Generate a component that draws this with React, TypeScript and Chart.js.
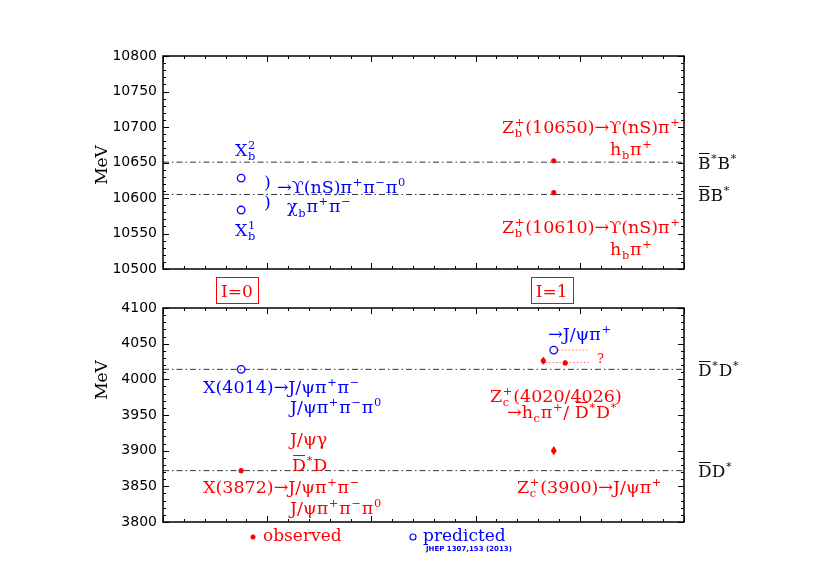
import React, { useEffect, useRef } from 'react';
import { Chart, registerables } from 'chart.js';
Chart.register(...registerables);

const RED = 'rgb(255,0,0)';
const BLUE = 'rgb(0,0,255)';
const SERIF = '"DejaVu Serif", serif';
const SANS = '"DejaVu Sans", sans-serif';
const LABEL_SIZE = 17.5;

const X_MIN = 0;
const X_MAX = 5;
const X_MAJOR = 1;
const X_MINOR = 0.2;

// ---- bottomonium panel (top) ----
const B_Y_MIN = 10500;
const B_Y_MAX = 10800;
const B_Y_STEP = 50;
const B_Y_MINOR = 10;
const bObsX = [3.75, 3.75];
const bObsY = [10652.5, 10607.5];
const bObsErr = [0, 0];
const bPredX = [0.75, 0.75];
const bPredY = [10628, 10583];
const bThresh = [10650.5, 10605];
const bThreshLabels = ['~{B}^{*}B^{*}', '~{B}B^{*}'];
const bLabels = [
  { t: 'X_{b}^{2}', x: 0.69, y: 10659, c: BLUE },
  { t: 'X_{b}^{1}', x: 0.69, y: 10546.5, c: BLUE },
  { t: ')', x: 0.97, y: 10614, c: BLUE },
  { t: ')', x: 0.97, y: 10586, c: BLUE },
  { t: '→ϒ(nS)π^{+}π^{−}π^{0}', x: 1.094, y: 10607, c: BLUE },
  { t: 'χ_{b}π^{+}π^{−}', x: 1.19, y: 10580, c: BLUE },
  { t: 'Z_{b}^{+}(10650)→ϒ(nS)π^{+}', x: 3.253, y: 10691.5, c: RED },
  { t: 'h_{b}π^{+}', x: 4.29, y: 10660.6, c: RED },
  { t: 'Z_{b}^{+}(10610)→ϒ(nS)π^{+}', x: 3.253, y: 10550.7, c: RED },
  { t: 'h_{b}π^{+}', x: 4.29, y: 10519.7, c: RED },
];
const isoText = ['I=0', 'I=1'];
const isoX = [0.71, 3.73];

// ---- charmonium panel (bottom) ----
const C_Y_MIN = 3800;
const C_Y_MAX = 4100;
const C_Y_STEP = 50;
const C_Y_MINOR = 10;
const cObsX = [0.75, 3.65, 3.86, 3.75];
const cObsY = [3872, 4026, 4023, 3900];
const cObsErr = [0, 5, 0, 5.5];
const cPredX = [0.75, 3.75];
const cPredY = [4014, 4041];
const cThresh = [4014, 3872];
const cThreshLabels = ['~{D}^{*}D^{*}', '~{D}D^{*}'];
const cLinkY = [4041, 4023.5];
const cLinkX0 = [3.79, 3.67];
const cLinkX1 = [4.09, 4.09];
const cLabels = [
  { t: 'X(4014)→J/ψπ^{+}π^{−}', x: 0.384, y: 3980.8, c: BLUE },
  { t: 'J/ψπ^{+}π^{−}π^{0}', x: 1.219, y: 3952.8, c: BLUE },
  { t: 'J/ψγ', x: 1.219, y: 3908, c: RED },
  { t: '~{D}^{*}D', x: 1.238, y: 3871.5, c: RED },
  { t: 'X(3872)→J/ψπ^{+}π^{−}', x: 0.384, y: 3840.6, c: RED },
  { t: 'J/ψπ^{+}π^{−}π^{0}', x: 1.219, y: 3811.2, c: RED },
  { t: '→J/ψπ^{+}', x: 3.695, y: 4055.1, c: BLUE },
  { t: 'Z_{c}^{+}(4020/4026)', x: 3.138, y: 3968.2, c: RED },
  { t: '→h_{c}π^{+}/ ~{D}^{*}D^{*}', x: 3.301, y: 3945.8, c: RED },
  { t: 'Z_{c}^{+}(3900)→J/ψπ^{+}', x: 3.397, y: 3840.6, c: RED },
];
const cQuestion = { t: '?', x: 4.165, y: 4022.9 };

// ---- rich text ----
type Seg = { k: string; t?: string; sub?: string; sup?: string };
function parseRich(s: string): Seg[] {
  const segs: Seg[] = [];
  let buf = '';
  let i = 0;
  const flush = () => { if (buf) { segs.push({ k: 'n', t: buf }); buf = ''; } };
  while (i < s.length) {
    const c = s[i];
    if ((c === '_' || c === '^' || c === '~') && s[i + 1] === '{') {
      const end = s.indexOf('}', i + 2);
      flush();
      segs.push({ k: c === '_' ? 'sub' : c === '^' ? 'sup' : 'over', t: s.slice(i + 2, end) });
      i = end + 1;
    } else { buf += c; i++; }
  }
  flush();
  const out: Seg[] = [];
  for (let j = 0; j < segs.length; j++) {
    const a = segs[j];
    const b = segs[j + 1];
    if (b && ((a.k === 'sub' && b.k === 'sup') || (a.k === 'sup' && b.k === 'sub'))) {
      out.push({ k: 'stack', sub: a.k === 'sub' ? a.t : b.t, sup: a.k === 'sup' ? a.t : b.t });
      j++;
    } else out.push(a);
  }
  return out;
}

function drawRich(ctx: CanvasRenderingContext2D, str: string, x: number, y: number, size: number, color: string, align = 'left', family = SERIF) {
  const items = parseRich(str);
  const fN = `${size}px ${family}`;
  const fS = `${(size * 0.65).toFixed(1)}px ${family}`;
  const widthOf = (it: Seg) => {
    if (it.k === 'n' || it.k === 'over') { ctx.font = fN; return ctx.measureText(it.t!).width; }
    ctx.font = fS;
    if (it.k === 'stack') return Math.max(ctx.measureText(it.sub!).width, ctx.measureText(it.sup!).width) + 1.5;
    return ctx.measureText(it.t!).width + 1.5;
  };
  const total = items.reduce((a, it) => a + widthOf(it), 0);
  let cx = align === 'left' ? x : align === 'right' ? x - total : x - total / 2;
  ctx.save();
  ctx.fillStyle = color;
  ctx.strokeStyle = color;
  ctx.textAlign = 'left';
  ctx.textBaseline = 'alphabetic';
  for (const it of items) {
    const w = widthOf(it);
    if (it.k === 'n') ctx.fillText(it.t!, cx, y);
    else if (it.k === 'over') {
      ctx.fillText(it.t!, cx, y);
      ctx.lineWidth = 1;
      const yy = Math.round(y - size * 0.9) + 0.5;
      ctx.beginPath(); ctx.moveTo(cx + 1, yy); ctx.lineTo(cx + w - 1, yy); ctx.stroke();
    } else if (it.k === 'sup') ctx.fillText(it.t!, cx + 0.7, y - size * 0.42);
    else if (it.k === 'sub') ctx.fillText(it.t!, cx + 0.7, y + size * 0.25);
    else { ctx.fillText(it.sup!, cx + 0.7, y - size * 0.42); ctx.fillText(it.sub!, cx + 0.7, y + size * 0.25); }
    cx += w;
  }
  ctx.restore();
}

type PanelCfg = {
  yMin: number; yMax: number; yStep: number; yMinor: number;
  obsX: number[]; obsY: number[]; obsErr: number[];
  predX: number[]; predY: number[];
  thresh: number[]; threshLabels: string[];
  labels: { t: string; x: number; y: number; c: string }[];
  links?: { x0: number[]; x1: number[]; y: number[] };
  padding: { top: number; bottom: number };
  mevY: number;
  extra?: (chart: any) => void;
};

function buildChart(canvas: HTMLCanvasElement, p: PanelCfg) {
  const datasets: any[] = [];
  datasets.push({
    type: 'scatter', label: 'observed',
    data: p.obsX.map((x, i) => ({ x, y: p.obsY[i] })),
    pointRadius: 2.6, pointBackgroundColor: RED, pointBorderWidth: 0, pointBorderColor: RED,
  });
  datasets.push({
    type: 'scatter', label: 'predicted',
    data: p.predX.map((x, i) => ({ x, y: p.predY[i] })),
    pointRadius: 3.8, pointBackgroundColor: 'rgba(255,255,255,0)', pointBorderColor: BLUE, pointBorderWidth: 1.3,
  });
  if (p.links) {
    p.links.y.forEach((yv, i) => {
      datasets.push({
        type: 'line', label: 'link' + i,
        data: [{ x: p.links!.x0[i], y: yv }, { x: p.links!.x1[i], y: yv }],
        borderColor: 'rgba(255,90,90,0.9)', borderWidth: 1, borderDash: [1.5, 2], pointRadius: 0,
      });
    });
  }
  p.thresh.forEach((t, i) => {
    datasets.push({
      type: 'line', label: 'thr' + i,
      data: [{ x: X_MIN, y: t }, { x: X_MAX, y: t }],
      borderColor: '#333', borderWidth: 1, borderDash: [6, 3, 1.5, 3], pointRadius: 0,
    });
  });

  const errPlugin = {
    id: 'err',
    afterDatasetsDraw(chart: any) {
      const { ctx, scales: { x, y } } = chart;
      ctx.save();
      ctx.strokeStyle = RED; ctx.lineWidth = 2;
      p.obsErr.forEach((e, i) => {
        if (!e) return;
        const px = x.getPixelForValue(p.obsX[i]);
        ctx.beginPath();
        ctx.moveTo(px, y.getPixelForValue(p.obsY[i] - e));
        ctx.lineTo(px, y.getPixelForValue(p.obsY[i] + e));
        ctx.stroke();
      });
      ctx.restore();
    },
  };

  const framePlugin = {
    id: 'frame',
    afterDraw(chart: any) {
      const { ctx, chartArea: { left, right, top, bottom }, scales: { x, y } } = chart;
      ctx.save();
      ctx.strokeStyle = '#000';
      ctx.lineWidth = 1;
      const seg = (a: number, b: number, c: number, d: number) => { ctx.beginPath(); ctx.moveTo(a, b); ctx.lineTo(c, d); ctx.stroke(); };
      const nx = Math.round((X_MAX - X_MIN) / X_MINOR);
      for (let k = 0; k <= nx; k++) {
        const v = X_MIN + k * X_MINOR;
        const major = k % Math.round(X_MAJOR / X_MINOR) === 0;
        const L = major ? 6 : 3;
        const px = Math.round(x.getPixelForValue(v)) + 0.5;
        seg(px, bottom, px, bottom - L);
        seg(px, top, px, top + L);
      }
      const ny = Math.round((p.yMax - p.yMin) / p.yMinor);
      for (let k = 0; k <= ny; k++) {
        const v = p.yMin + k * p.yMinor;
        const major = k % Math.round(p.yStep / p.yMinor) === 0;
        const L = major ? 6 : 3;
        const py = Math.round(y.getPixelForValue(v)) + 0.5;
        seg(left, py, left + L, py);
        seg(right, py, right - L, py);
      }
      ctx.lineWidth = 1.5;
      ctx.strokeRect(left, top, right - left, bottom - top);
      ctx.restore();

      // labels
      p.labels.forEach((l) => drawRich(ctx, l.t, x.getPixelForValue(l.x), y.getPixelForValue(l.y), LABEL_SIZE, l.c));
      p.thresh.forEach((t, i) => drawRich(ctx, p.threshLabels[i], right + 14, y.getPixelForValue(t) + 6.5, 17, '#111'));

      // axis title
      ctx.save();
      ctx.translate(107, p.mevY);
      ctx.rotate(-Math.PI / 2);
      ctx.font = `17px ${SERIF}`;
      ctx.fillStyle = '#000';
      ctx.textAlign = 'center';
      ctx.textBaseline = 'alphabetic';
      ctx.fillText('MeV', 0, 0);
      ctx.restore();

      if (p.extra) p.extra(chart);
    },
  };

  return new Chart(canvas, {
    type: 'scatter',
    data: { datasets },
    options: {
      responsive: false,
      animation: false,
      events: [],
      layout: { padding: { left: 0, right: 830 - 684, top: p.padding.top, bottom: p.padding.bottom } },
      plugins: { legend: { display: false }, tooltip: { enabled: false }, title: { display: false } },
      scales: {
        x: { type: 'linear', min: X_MIN, max: X_MAX, display: false },
        y: {
          type: 'linear', min: p.yMin, max: p.yMax,
          afterFit: (s: any) => { s.width = 163; },
          ticks: {
            stepSize: p.yStep, color: '#000', padding: 6, font: { family: SANS, size: 14 }, autoSkip: false,
            callback: (v: any) => String(v),
          },
          grid: { display: false, drawTicks: false },
          border: { display: false },
        },
      },
    } as any,
    plugins: [errPlugin, framePlugin],
  });
}

export default function App() {
  const topRef = useRef<HTMLCanvasElement>(null);
  const botRef = useRef<HTMLCanvasElement>(null);
  useEffect(() => {
    const top = buildChart(topRef.current!, {
      yMin: B_Y_MIN, yMax: B_Y_MAX, yStep: B_Y_STEP, yMinor: B_Y_MINOR,
      obsX: bObsX, obsY: bObsY, obsErr: bObsErr, predX: bPredX, predY: bPredY,
      thresh: bThresh, threshLabels: bThreshLabels, labels: bLabels,
      padding: { top: 56, bottom: 310 - 269 },
      mevY: 165,
      extra: (chart: any) => {
        const { ctx, chartArea: { bottom }, scales: { x } } = chart;
        isoText.forEach((t, i) => {
          const cx = x.getPixelForValue(isoX[i]);
          ctx.save();
          ctx.strokeStyle = RED; ctx.lineWidth = 1;
          ctx.strokeRect(Math.round(cx - 21) + 0.5, bottom + 8.5, 42, 26);
          ctx.fillStyle = RED;
          ctx.font = `17px ${SERIF}`;
          ctx.textAlign = 'center';
          ctx.textBaseline = 'alphabetic';
          ctx.fillText(t, cx, bottom + 28);
          ctx.restore();
        });
      },
    });
    const bot = buildChart(botRef.current!, {
      yMin: C_Y_MIN, yMax: C_Y_MAX, yStep: C_Y_STEP, yMinor: C_Y_MINOR,
      obsX: cObsX, obsY: cObsY, obsErr: cObsErr, predX: cPredX, predY: cPredY,
      thresh: cThresh, threshLabels: cThreshLabels, labels: cLabels,
      links: { x0: cLinkX0, x1: cLinkX1, y: cLinkY },
      padding: { top: 308 - 290, bottom: 587 - 290 - (522 - 290) },
      mevY: 380 - 290,
      extra: (chart: any) => {
        const { ctx, chartArea: { bottom }, scales: { x, y } } = chart;
        drawRich(ctx, cQuestion.t, x.getPixelForValue(cQuestion.x), y.getPixelForValue(cQuestion.y), 13, RED);
        // legend
        const ly = bottom + 15;
        ctx.save();
        ctx.fillStyle = RED;
        ctx.beginPath(); ctx.arc(253, ly, 2.5, 0, Math.PI * 2); ctx.fill();
        ctx.font = `17px ${SERIF}`;
        ctx.textBaseline = 'alphabetic';
        ctx.fillText('observed', 263, ly + 4);
        ctx.strokeStyle = BLUE; ctx.lineWidth = 1.2;
        ctx.beginPath(); ctx.arc(413, ly, 3, 0, Math.PI * 2); ctx.stroke();
        ctx.fillStyle = BLUE;
        ctx.fillText('predicted', 423, ly + 4);
        ctx.font = `bold 7px ${SANS}`;
        ctx.fillText('JHEP 1307,153 (2013)', 426, ly + 14);
        ctx.restore();
      },
    });
    return () => { top.destroy(); bot.destroy(); };
  }, []);
  return (
    <div style={{ position: 'absolute', left: 0, top: 0, width: 830, height: 587, background: '#fff' }}>
      <canvas ref={topRef} width={830} height={310} style={{ position: 'absolute', left: 0, top: 0 }} />
      <canvas ref={botRef} width={830} height={297} style={{ position: 'absolute', left: 0, top: 290 }} />
    </div>
  );
}
